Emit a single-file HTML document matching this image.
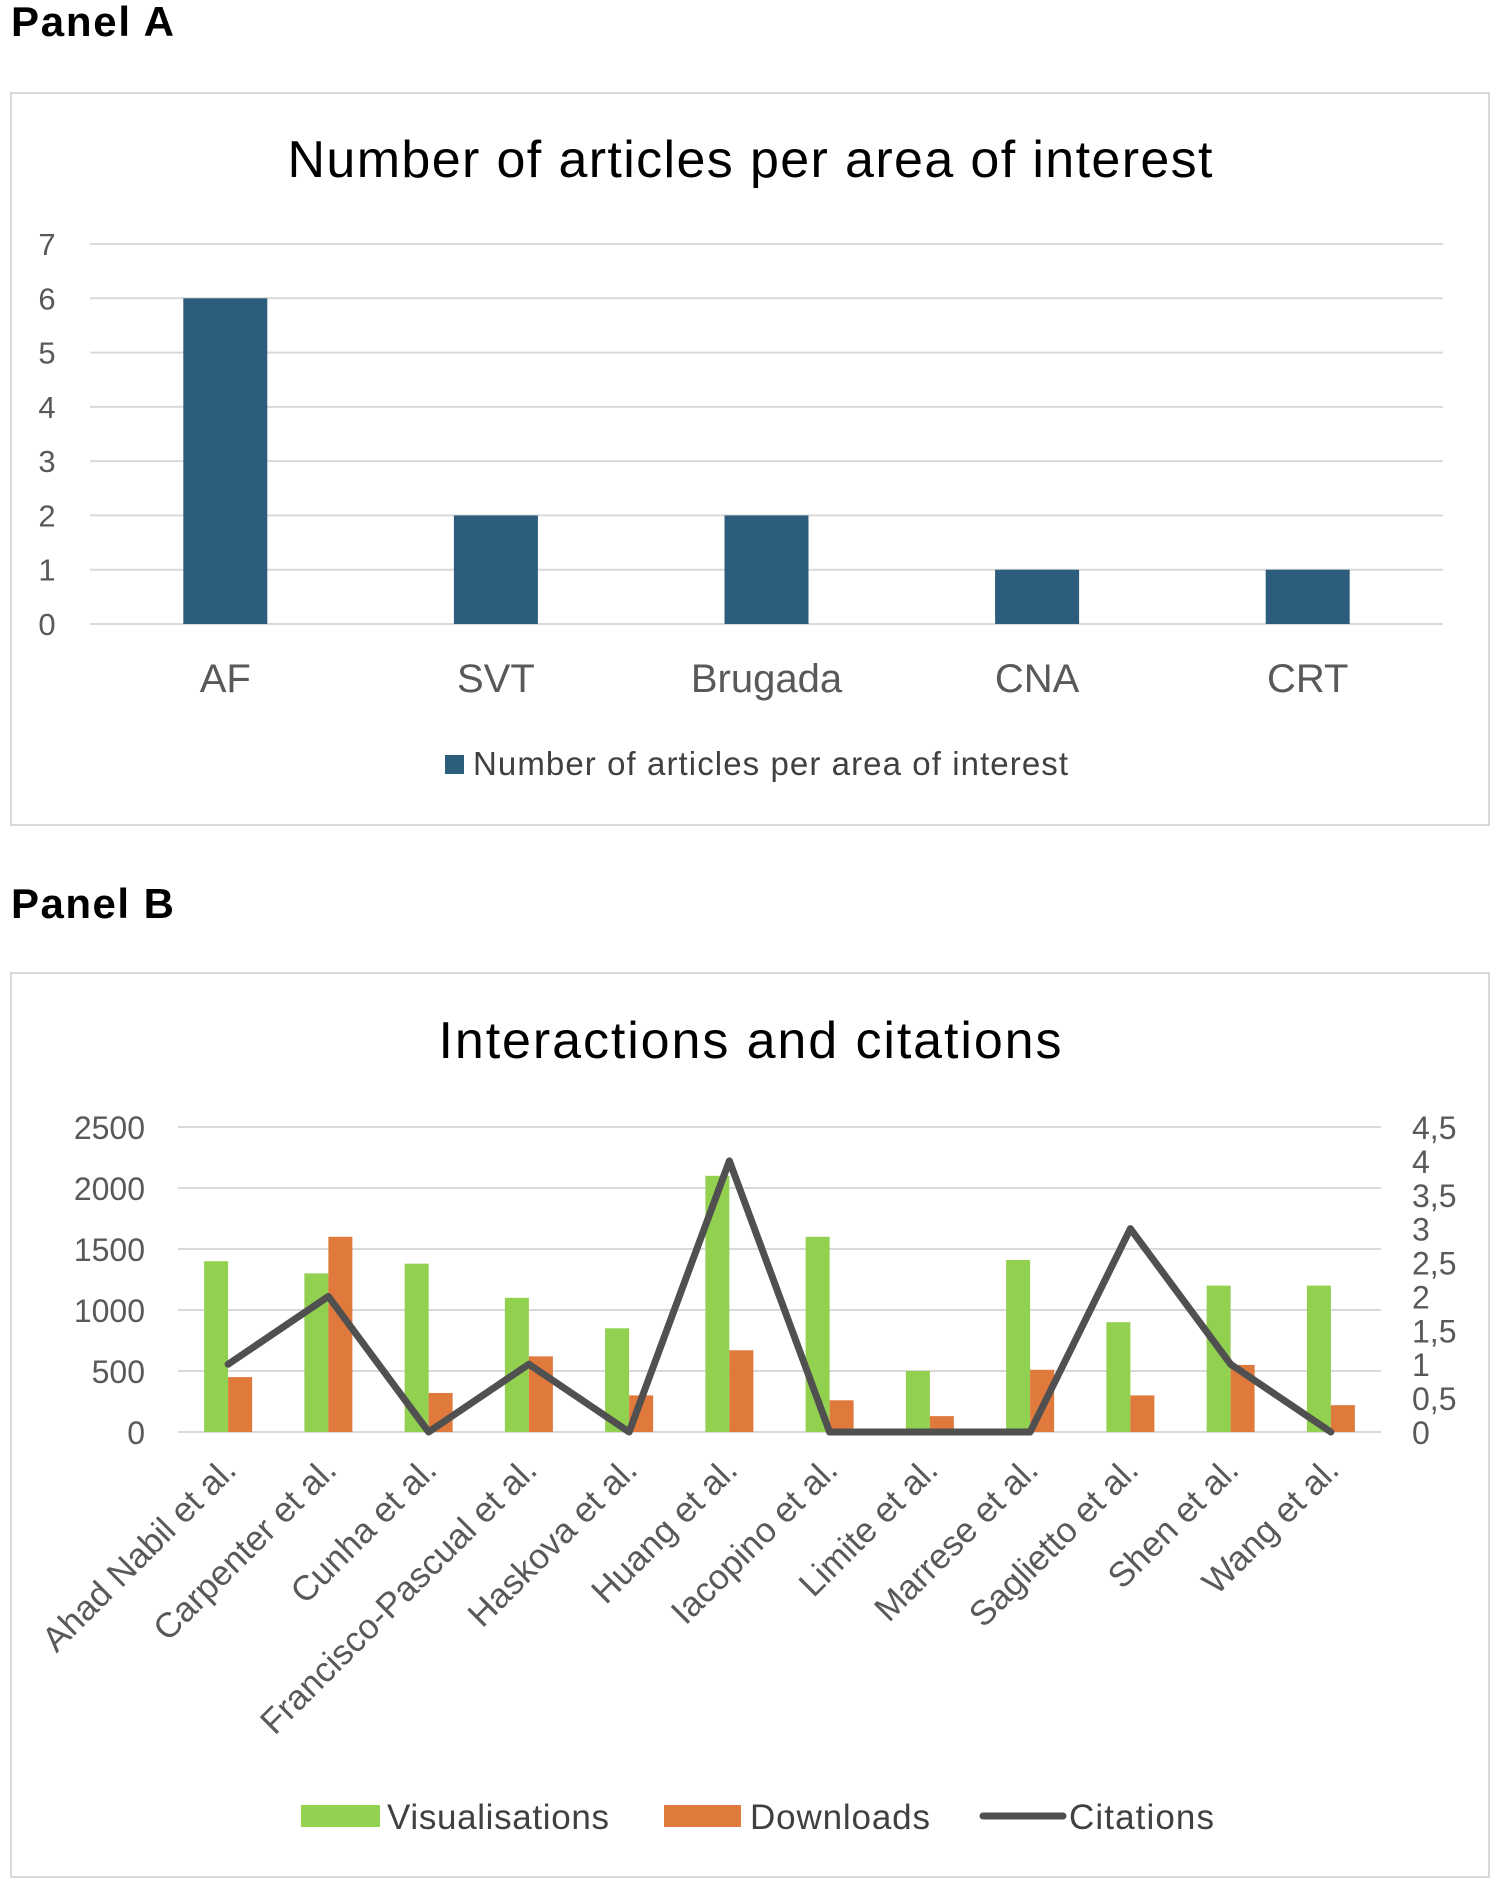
<!DOCTYPE html>
<html><head><meta charset="utf-8"><style>
body{margin:0;background:#fff;width:1500px;height:1891px;overflow:hidden;font-family:"Liberation Sans",sans-serif}
svg text{font-family:"Liberation Sans",sans-serif}
</style></head><body>
<svg id="svg" width="1500" height="1891" viewBox="0 0 1500 1891">
<text x="11" y="36" font-size="42" font-weight="bold" fill="#000" textLength="163">Panel A</text>
<rect x="11" y="93" width="1478" height="732" fill="#fff" stroke="#d9d9d9" stroke-width="2"/>
<text x="750" y="177" font-size="52" text-anchor="middle" fill="#000" textLength="925">Number of articles per area of interest</text>
<g id="a-grid"></g><g id="a-bars"></g><g id="a-labels"></g>
<rect x="445" y="755" width="19" height="19" fill="#2c5d7c"/>
<text x="473" y="775" font-size="33" fill="#404040" textLength="595">Number of articles per area of interest</text>

<text x="11" y="918" font-size="42" font-weight="bold" fill="#000" textLength="163">Panel B</text>
<rect x="11" y="973" width="1478" height="904" fill="#fff" stroke="#d9d9d9" stroke-width="2"/>
<text x="750" y="1058" font-size="52" text-anchor="middle" fill="#000" textLength="623">Interactions and citations</text>
<g id="b-grid"></g><g id="b-bars"></g><g id="b-line"></g><g id="b-labels"></g>
<rect x="301" y="1805" width="79" height="22" fill="#92d050"/>
<text x="387" y="1829" font-size="35" fill="#404040" textLength="222">Visualisations</text>
<rect x="664" y="1805" width="77" height="22" fill="#e07a3c"/>
<text x="750" y="1829" font-size="35" fill="#404040" textLength="180">Downloads</text>
<line x1="983" y1="1816" x2="1063" y2="1816" stroke="#505050" stroke-width="7" stroke-linecap="round"/>
<text x="1069" y="1829" font-size="35" fill="#404040" textLength="145">Citations</text>
</svg>
<script>
const aCategories=["AF","SVT","Brugada","CNA","CRT"];
const aValues=[6,2,2,1,1];
const aTicks=[0,1,2,3,4,5,6,7];
const bCategories=["Ahad Nabil et al.","Carpenter et al.","Cunha et al.","Francisco-Pascual et al.","Haskova et al.","Huang et al.","Iacopino et al.","Limite et al.","Marrese et al.","Saglietto et al.","Shen et al.","Wang et al."];
const bVisualisations=[1400,1300,1380,1100,850,2100,1600,500,1410,900,1200,1200];
const bDownloads=[450,1600,320,620,300,670,260,130,510,300,550,220];
const bCitations=[1,2,0,1,0,4,0,0,0,3,1,0];
const bLeftTicks=[0,500,1000,1500,2000,2500];
const bRightTicks=["0","0,5","1","1,5","2","2,5","3","3,5","4","4,5"];

const NS="http://www.w3.org/2000/svg";
function mk(tag,attrs,parent,txt){const e=document.createElementNS(NS,tag);for(const k in attrs)e.setAttribute(k,attrs[k]);if(txt!==undefined)e.textContent=txt;document.getElementById(parent).appendChild(e);return e;}

// Panel A
const aL=90,aR=1443,aT=244,aB=624,aMax=7;
const ay=v=>aB-(v/aMax)*(aB-aT);
const aBand=(aR-aL)/aCategories.length;
const ax=i=>aL+aBand*(i+0.5);
aTicks.forEach(t=>{
 const g=mk('line',{x1:aL,x2:aR,y1:ay(t),y2:ay(t),stroke:'#d9d9d9','stroke-width':2},'a-grid');
 
 
 const l=mk('text',{x:47,y:ay(t)+11,'font-size':31,'text-anchor':'middle',fill:'#595959'},'a-grid',String(t));
 
 
});
aValues.forEach((v,i)=>{
 const r=mk('rect',{x:ax(i)-42,y:ay(v),width:84,height:aB-ay(v),fill:'#2c5d7c'},'a-bars');
 
 
 const t=mk('text',{x:ax(i),y:692,'font-size':40,'text-anchor':'middle',fill:'#595959'},'a-labels',aCategories[i]);
 
 
});

// Panel B
const bL=178,bR=1381,bT=1127,bB=1432,bMax=2500,cMax=4.5;
const by=v=>bB-(v/bMax)*(bB-bT);
const cy=v=>bB-(v/cMax)*(bB-bT);
const bBand=(bR-bL)/bCategories.length;
const bx=i=>bL+bBand*(i+0.5);
bLeftTicks.forEach(t=>{
 const g=mk('line',{x1:bL,x2:bR,y1:by(t),y2:by(t),stroke:'#d9d9d9','stroke-width':2},'b-grid');
 
 
 const l=mk('text',{x:145,y:by(t)+12,'font-size':32,'text-anchor':'end',fill:'#595959'},'b-grid',String(t));
 
 
});
bRightTicks.forEach((t,i)=>{
 const l=mk('text',{x:1412,y:cy(i*0.5)+12,'font-size':32,fill:'#595959'},'b-grid',t);
 
 
});
bCategories.forEach((c,i)=>{
 const v=bVisualisations[i],d=bDownloads[i];
 const r1=mk('rect',{x:bx(i)-24,y:by(v),width:24,height:bB-by(v),fill:'#92d050'},'b-bars');
 
 
 const r2=mk('rect',{x:bx(i),y:by(d),width:24,height:bB-by(d),fill:'#e07a3c'},'b-bars');
 
 
 const lx=bx(i)+10,ly=1472;
 const t=mk('text',{x:lx,y:ly,'font-size':35,'text-anchor':'end',fill:'#595959',transform:`rotate(-45 ${lx} ${ly})`},'b-labels',c);
 
 
});
const pts=bCitations.map((v,i)=>bx(i)+','+cy(v)).join(' ');
const pl=mk('polyline',{points:pts,fill:'none',stroke:'#505050','stroke-width':7,'stroke-linejoin':'round','stroke-linecap':'round'},'b-line');


</script>
</body></html>
